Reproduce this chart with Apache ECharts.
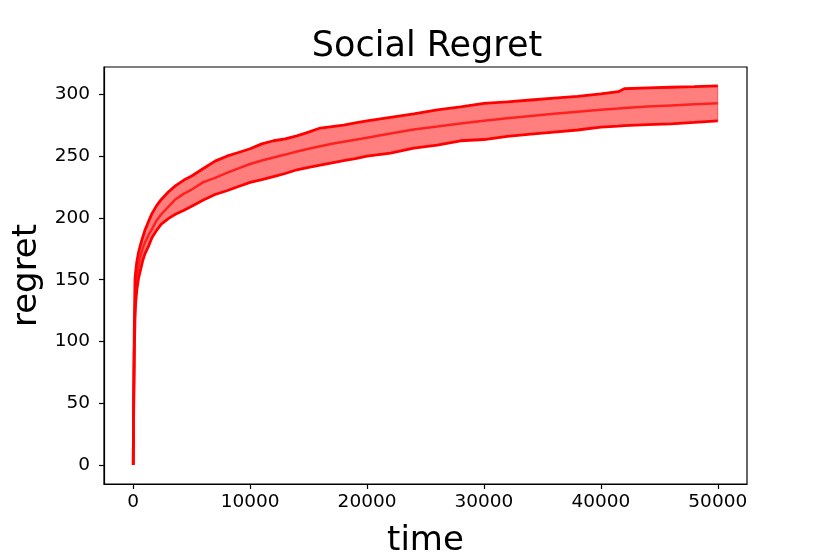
<!DOCTYPE html>
<html>
<head>
<meta charset="utf-8">
<script src="https://cdn.jsdelivr.net/npm/echarts@6/dist/echarts.min.js"></script>
<style>
html,body{margin:0;padding:0;background:#fff;}
#chart{width:830px;height:554px;}
</style>
</head>
<body>
<div id="chart"></div>
<script>
const times = [0, 40, 90, 150, 200, 300, 450, 600, 800, 1000, 1300, 1600, 2000, 2400, 3000, 3600, 4300, 5000, 6000, 7000, 8000, 9000, 10000, 11000, 12000, 13000, 14000, 15000, 16000, 17000, 18000, 19000, 20000, 22000, 24000, 26000, 28000, 30000, 32000, 34000, 36000, 38000, 40000, 41500, 42000, 44000, 46000, 48000, 50000];
const meanRegret = [0, 50, 100, 128, 140, 153, 161, 168, 175, 180, 186, 191, 198, 203, 209, 215, 219.5, 223, 229, 232.5, 236.5, 240.2, 243.7, 246.5, 249, 251.3, 253.8, 256, 258, 260, 261.7, 263.3, 265, 268.3, 271.6, 274, 276.5, 278.7, 280.7, 282.6, 284.3, 285.9, 287.5, 288.6, 289, 290.2, 291.1, 292, 292.8];
const upperRegret = [0, 55, 108, 150, 156, 164, 172, 177.5, 184, 190, 197, 203.5, 210, 215, 221, 226, 230.5, 234, 240, 246, 250, 253, 256, 260, 262.5, 264, 266.5, 269.5, 272.8, 274, 275.2, 277, 278.5, 281.5, 284.2, 287.5, 290, 292.8, 294, 295.5, 297, 298.5, 300.5, 302.2, 304.6, 305.3, 305.8, 306.3, 307];
const lowerRegret = [0, 45, 92, 118, 130, 141, 151, 157, 165, 171, 177, 184, 190, 195, 199.5, 203, 206, 209.5, 214.5, 219, 222, 225.5, 228.8, 231, 233.5, 236, 239, 241, 242.8, 244.5, 246.5, 248, 250, 252.5, 256.5, 259, 262.5, 263.5, 266, 267.8, 269.5, 271.2, 273.5, 274.3, 274.7, 275.6, 276.2, 277.3, 278.6];
const xTicks = [0, 10000, 20000, 30000, 40000, 50000];
const yTicks = [0, 50, 100, 150, 200, 250, 300];

const pairs = (vals) => times.map((t, i) => [t, vals[i]]);

const font = 'DejaVu Sans';
const chart = echarts.init(document.getElementById('chart'), null, {renderer: 'canvas'});
chart.setOption({
  animation: false,
  backgroundColor: '#fff',
  title: {
    text: 'Social Regret',
    left: 422,
    textAlign: 'center',
    top: 24,
    textStyle: {fontFamily: font, fontSize: 35, fontWeight: 'normal', color: '#000'}
  },
  grid: {left: 104, right: 83, top: 67, bottom: 70, containLabel: false, outerBoundsMode: 'none',
         show: true, borderColor: '#000', borderWidth: 1.2, backgroundColor: 'transparent'},
  xAxis: {
    type: 'value', min: -2500, max: 52500,
    name: 'time', nameLocation: 'middle', nameGap: 40,
    nameTextStyle: {fontFamily: font, fontSize: 34, color: '#000'},
    axisLine: {show: true, onZero: false, lineStyle: {color: '#000', width: 1.2}},
    axisTick: {show: true, inside: false, length: 5, customValues: xTicks, lineStyle: {color: '#000', width: 1.2}},
    axisLabel: {customValues: xTicks, margin: 9, fontFamily: font, fontSize: 18.5, color: '#000',
                formatter: (v) => String(v)},
    splitLine: {show: false}
  },
  yAxis: {
    type: 'value', min: -15.35, max: 322.2,
    name: 'regret', nameLocation: 'middle', nameGap: 58, nameRotate: 90,
    nameTextStyle: {fontFamily: font, fontSize: 34, color: '#000'},
    axisLine: {show: true, onZero: false, lineStyle: {color: '#000', width: 1.2}},
    axisTick: {show: true, inside: false, length: 5, customValues: yTicks, lineStyle: {color: '#000', width: 1.2}},
    axisLabel: {customValues: yTicks, margin: 14, fontFamily: font, fontSize: 18.5, color: '#000',
                formatter: (v) => String(v)},
    splitLine: {show: false}
  },
  series: [
    {
      type: 'custom',
      data: times.map((t, i) => [t, lowerRegret[i], upperRegret[i]]),
      encode: {x: 0, y: [1, 2]},
      silent: true,
      z: 1,
      renderItem: (params, api) => {
        if (params.dataIndex !== 0) return null;
        const pts = [];
        for (let i = 0; i < times.length; i++) pts.push(api.coord([times[i], upperRegret[i]]));
        for (let i = times.length - 1; i >= 0; i--) pts.push(api.coord([times[i], lowerRegret[i]]));
        return {
          type: 'polygon',
          shape: {points: pts},
          style: {fill: 'rgba(255,0,0,0.5)', stroke: 'rgba(255,0,0,0.5)', lineWidth: 1}
        };
      }
    },
    {type: 'line', data: pairs(upperRegret), symbol: 'none', silent: true, lineStyle: {color: '#ff0000', width: 2.8}, z: 3},
    {type: 'line', data: pairs(lowerRegret), symbol: 'none', silent: true, lineStyle: {color: '#ff0000', width: 2.8}, z: 3},
    {type: 'line', data: pairs(meanRegret), symbol: 'none', silent: true, lineStyle: {color: 'rgba(255,0,0,0.75)', width: 2.5}, z: 4}
  ]
});
</script>
</body>
</html>
